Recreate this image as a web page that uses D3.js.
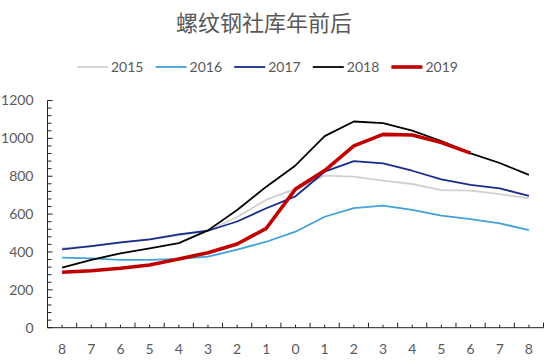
<!DOCTYPE html>
<html>
<head>
<meta charset="utf-8">
<script src="https://cdn.jsdelivr.net/npm/d3@7"></script>
<style>
  body { margin: 0; background: #fff; }
  svg text { font-family: Lato, "Noto Sans", sans-serif; fill: #595959; }
</style>
</head>
<body>
<div class="chart"></div>
<script>
// x categories: 8 days before to 8 days after
var categories = ["8","7","6","5","4","3","2","1","0","1","2","3","4","5","6","7","8"];
var years = ["2015", "2016", "2017", "2018", "2019"];
var s2015 = [420, 430, 448, 465, 488, 512, 585, 676, 733, 803, 798, 777, 759, 727, 724, 706, 683];
var s2016 = [370, 366, 358, 358, 363, 375, 412, 454, 507, 586, 632, 645, 622, 592, 574, 551, 516];
var s2017 = [414, 431, 451, 467, 493, 512, 561, 631, 694, 824, 880, 868, 829, 784, 754, 736, 696];
var s2018 = [317, 358, 393, 419, 447, 514, 622, 745, 857, 1012, 1089, 1080, 1041, 986, 921, 870, 807];
var s2019 = [293, 301, 314, 331, 363, 396, 442, 525, 732, 830, 960, 1021, 1018, 978, 922, null, null];
var yTicks = [0, 200, 400, 600, 800, 1000, 1200];

var seriesList = [
  {name: years[0], values: s2015, color: "#d0d0d0", width: 1.8},
  {name: years[1], values: s2016, color: "#42a1d9", width: 1.8},
  {name: years[2], values: s2017, color: "#1a2a8a", width: 1.8},
  {name: years[3], values: s2018, color: "#000000", width: 1.8},
  {name: years[4], values: s2019, color: "#c00000", width: 3.6}
];

var width = 550, height = 364;
var svg = d3.select(".chart").append("svg")
  .attr("width", width)
  .attr("height", height);

var x = d3.scaleBand()
  .domain(d3.range(categories.length))
  .range([47.5, 543.5]);

var y = d3.scaleLinear()
  .domain([0, 1200])
  .range([327.7, 100.5]);

// title
svg.append("text")
  .attr("x", 264)
  .attr("y", 31)
  .attr("text-anchor", "middle")
  .style("font-family", "'Noto Sans CJK SC', sans-serif")
  .style("font-size", "22px")
  .text("螺纹钢社库年前后");

// legend
var legend = svg.append("g").selectAll("g")
  .data(seriesList)
  .enter().append("g")
  .attr("transform", (d, i) => "translate(" + (77 + i * 78.6) + ",67)");
legend.append("line")
  .attr("x1", 0).attr("x2", 31)
  .attr("stroke", d => d.color)
  .attr("stroke-width", d => d.width);
legend.append("text")
  .attr("x", 34)
  .attr("dy", "0.35em")
  .style("font-size", "14px")
  .text(d => d.name);

// y axis with minor ticks every 40
var yAxis = svg.append("g").attr("transform", "translate(47.5,0)");
yAxis.append("line")
  .attr("y1", y(0)).attr("y2", y(1200))
  .attr("stroke", "#222");
yAxis.selectAll("line.minor")
  .data(d3.range(0, 1201, 40))
  .enter().append("line")
  .attr("class", "minor")
  .attr("x1", 0)
  .attr("x2", d => d % 200 === 0 ? 5 : 4)
  .attr("y1", d => y(d)).attr("y2", d => y(d))
  .attr("stroke", "#222");
yAxis.selectAll("text")
  .data(yTicks)
  .enter().append("text")
  .attr("x", -14)
  .attr("y", d => y(d))
  .attr("dy", "0.35em")
  .attr("text-anchor", "end")
  .style("font-size", "14px")
  .text(d => d);

// x axis: long ticks on band edges, short ticks at band centers
var xAxis = svg.append("g").attr("transform", "translate(0," + y(0) + ")");
xAxis.append("line")
  .attr("x1", x.range()[0]).attr("x2", x.range()[1])
  .attr("stroke", "#222");
xAxis.selectAll("line.edge")
  .data(d3.range(categories.length + 1))
  .enter().append("line")
  .attr("class", "edge")
  .attr("x1", i => x.range()[0] + i * x.bandwidth())
  .attr("x2", i => x.range()[0] + i * x.bandwidth())
  .attr("y1", 0).attr("y2", -5)
  .attr("stroke", "#222");
xAxis.selectAll("line.mid")
  .data(d3.range(categories.length))
  .enter().append("line")
  .attr("class", "mid")
  .attr("x1", i => x(i) + x.bandwidth() / 2)
  .attr("x2", i => x(i) + x.bandwidth() / 2)
  .attr("y1", 0).attr("y2", -3)
  .attr("stroke", "#222");
xAxis.selectAll("text")
  .data(categories)
  .enter().append("text")
  .attr("x", (d, i) => x(i) + x.bandwidth() / 2)
  .attr("y", 21)
  .attr("dy", "0.35em")
  .attr("text-anchor", "middle")
  .style("font-size", "14px")
  .text(d => d);

// lines
var line = d3.line()
  .defined(d => d != null)
  .x((d, i) => x(i) + x.bandwidth() / 2)
  .y(d => y(d));

svg.append("g").selectAll("path")
  .data(seriesList)
  .enter().append("path")
  .attr("fill", "none")
  .attr("stroke", d => d.color)
  .attr("stroke-width", d => d.width)
  .attr("stroke-linejoin", "round")
  .attr("d", d => line(d.values));
</script>
</body>
</html>
